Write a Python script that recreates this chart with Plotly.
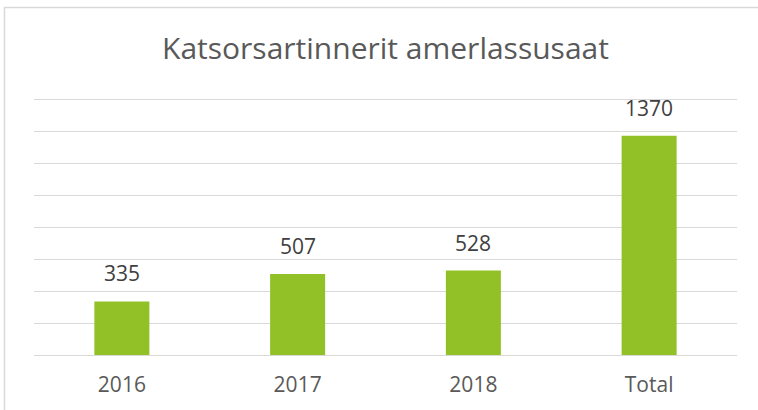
import plotly.graph_objects as go

categories = ["2016", "2017", "2018", "Total"]
values = [335, 507, 528, 1370]
title_text = "Katsorsartinnerit amerlassusaat"

FONT = "Open Sans"
BAR = "#92C127"

fig = go.Figure(
    go.Bar(
        x=categories,
        y=values,
        marker=dict(color=BAR, line=dict(width=0)),
        cliponaxis=False,
        hoverinfo="x+y",
    )
)

# On a category axis, annotation x is the category index
annotations = [
    dict(
        x=i, y=v, xref="x", yref="y", text=str(v), showarrow=False,
        yanchor="bottom", yshift=12,
        font=dict(family=FONT, size=21, color="#404040"),
    )
    for i, v in enumerate(values)
]

fig.update_layout(
    width=758,
    height=410,
    margin=dict(l=34, r=21, t=95, b=55),
    paper_bgcolor="white",
    plot_bgcolor="white",
    bargap=0.687,
    showlegend=False,
    annotations=annotations,
    title=dict(
        text=title_text,
        font=dict(family=FONT, size=30, color="#595959"),
        x=0.5, xref="paper", xanchor="center",
        y=1 - 48 / 410, yref="container", yanchor="middle",
    ),
    xaxis=dict(
        type="category", categoryarray=categories, categoryorder="array",
        range=[-0.5, len(categories) - 0.5],
        showgrid=False, showline=False, zeroline=False,
        tickfont=dict(family=FONT, size=21, color="#595959"),
        ticks="", ticklabelstandoff=15,
    ),
    yaxis=dict(
        range=[0, 1625], tick0=0, dtick=200, showticklabels=False,
        showgrid=True, gridcolor="#D9D9D9", gridwidth=1.3,
        zeroline=True, zerolinecolor="#D9D9D9", zerolinewidth=1.3,
        showline=False, ticks="",
    ),
    shapes=[
        dict(
            type="rect", xref="paper", yref="paper",
            x0=(4.5 - 34) / 703, x1=(762 - 34) / 703,
            y0=(355 - 414) / 260, y1=(355 - 7.5) / 260,
            line=dict(color="#D9D9D9", width=1.5),
            fillcolor="rgba(0,0,0,0)", layer="below",
        )
    ],
)

fig.write_html(
    "out.html",
    config={"displayModeBar": False},
    post_script="document.body.style.margin='0';document.body.style.padding='0';",
)
